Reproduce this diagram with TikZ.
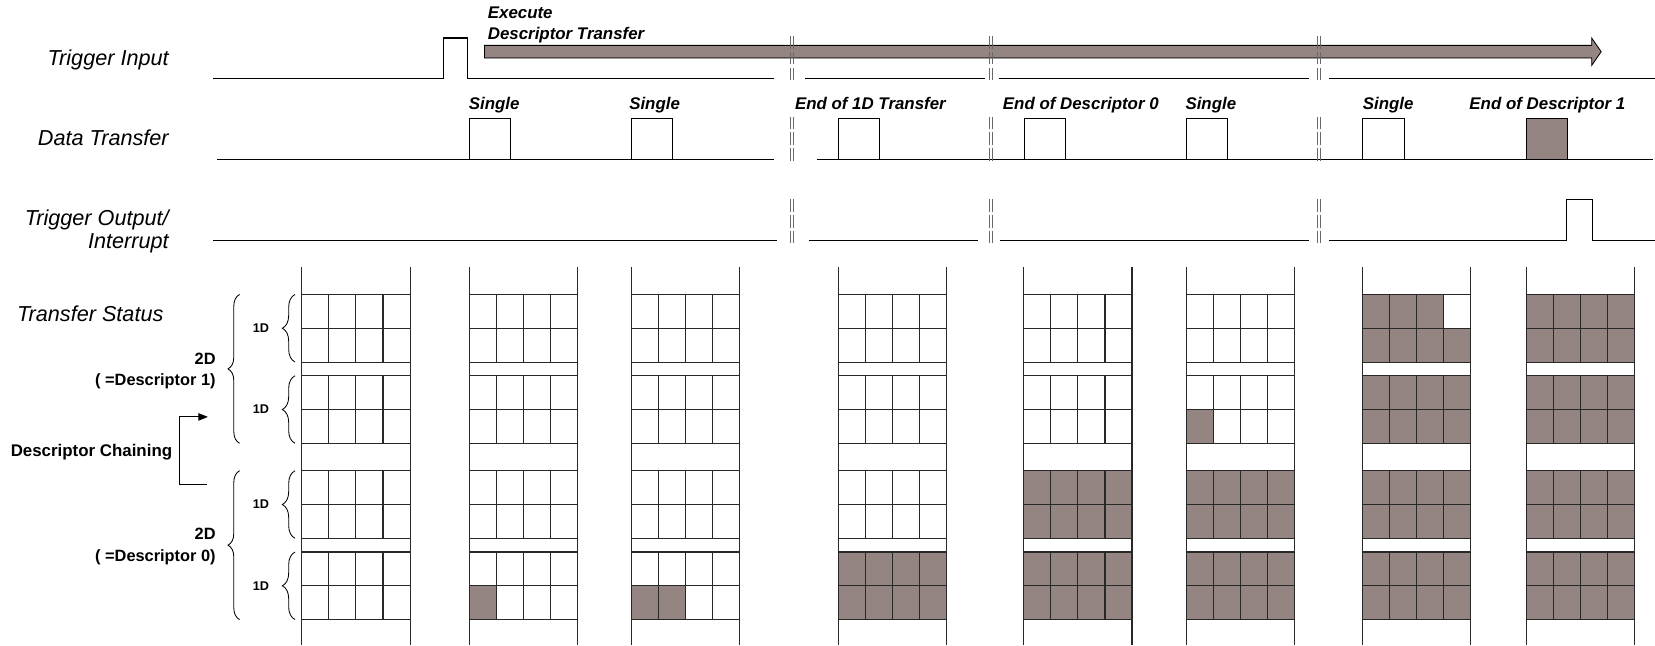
\documentclass[tikz,border=0pt]{standalone}
\usepackage{fontspec}
\setmainfont{Liberation Sans}
\usetikzlibrary{arrows.meta,decorations.pathreplacing}
\definecolor{fillc}{RGB}{148,132,130}
\definecolor{brkc}{RGB}{105,105,105}
\definecolor{gridc}{RGB}{40,40,40}
\newcommand{\breakmark}[3]{%
  \draw[brkline] (#1-1.5,#2) -- (#1-1.5,#3);
  \draw[brkline] (#1+1.5,#2) -- (#1+1.5,#3);}
\newcommand{\fillcell}[4]{%
  \fill[fillc] ({#1+(#4-1)*25.625},{#2+(#3-1)*32}) rectangle ++(25.625,32);}
\newcommand{\fillgroup}[2]{%
  \fill[fillc] (#1,#2) rectangle ++(102.5,64);}
\begin{document}
\begin{tikzpicture}[x=1pt,y=-1pt,
  wave/.style={line width=1pt},
  sidelabel/.style={font=\fontsize{20.5}{24}\selectfont\itshape, anchor=base east, inner sep=0pt},
  evlabel/.style={font=\fontsize{16}{19}\selectfont\bfseries\itshape, anchor=base west, inner sep=0pt},
  dimlabel/.style={font=\fontsize{15.5}{19}\selectfont\bfseries, anchor=base east, inner sep=0pt},
  smalllabel/.style={font=\fontsize{12}{14}\selectfont\bfseries, anchor=east, inner sep=0pt},
  pulsebox/.style={draw, line width=1pt},
  brkline/.style={draw=brkc, line width=0.8pt, dash pattern=on 12pt off 3pt},
  gridline/.style={draw=gridc, line width=1pt},
  bigbrace/.style={decorate, decoration={brace, amplitude=11pt}, line width=0.8pt},
  smallbrace/.style={decorate, decoration={brace, amplitude=12pt}, line width=0.8pt},
]
\useasboundingbox (0,0) rectangle (1568,612);

% ---------- side labels ----------
\node[sidelabel] (ti) at (160,61.6) {Trigger Input};
\node[sidelabel] (dt) at (160,137.5) {Data Transfer};
\node[sidelabel] (to1) at (160,213.5) {Trigger Output/};
\node[sidelabel] (to2) at (160,235.5) {Interrupt};
\node[sidelabel, anchor=base west] (ts) at (16,304.8) {Transfer Status};

% ---------- execute arrow ----------
\node[evlabel] (ex1) at (462,17.4) {Execute};
\node[evlabel] (ex2) at (462,37.3) {Descriptor Transfer};
\draw[fill=fillc, line width=0.8pt] (459,43) -- (1508,43) -- (1508,36) -- (1517,49) -- (1508,62) -- (1508,55) -- (459,55) -- cycle;
\draw[line width=1.4pt, fillc!55!black] (459.5,54.3) -- (1508,54.3);

% ---------- trigger input ----------
\draw[wave] (202,74) -- (420,74) -- (420,36) -- (443,36) -- (443,74) -- (733,74);
\draw[wave] (763,74) -- (933,74);
\draw[wave] (946,74) -- (1240,74);
\draw[wave] (1259,74) -- (1568,74);

% ---------- data transfer ----------
\draw[wave] (206,151) -- (733,151);
\draw[wave] (774,151) -- (1566,151);
\draw[pulsebox] (445,151) -- (445,112.7) -- (483.5,112.7) -- (483.5,151);
\draw[pulsebox] (598.5,151) -- (598.5,112.7) -- (637.5,112.7) -- (637.5,151);
\draw[pulsebox] (794,151) -- (794,112.7) -- (833,112.7) -- (833,151);
\draw[pulsebox] (970.5,151) -- (970.5,112.7) -- (1009.5,112.7) -- (1009.5,151);
\draw[pulsebox] (1124,151) -- (1124,112.7) -- (1163,112.7) -- (1163,151);
\draw[pulsebox] (1291,151) -- (1291,112.7) -- (1330.5,112.7) -- (1330.5,151);
\draw[pulsebox, fill=fillc] (1446.5,151) rectangle (1485,112.7);

\node[evlabel] (l1) at (444,104.2) {Single};
\node[evlabel] (l2) at (596,104.2) {Single};
\node[evlabel] (l3) at (753,104.2) {End of 1D Transfer};
\node[evlabel] (l4) at (950,104.2) {End of Descriptor 0};
\node[evlabel] (l5) at (1123,104.2) {Single};
\node[evlabel] (l6) at (1291,104.2) {Single};
\node[evlabel] (l7) at (1392,104.2) {End of Descriptor 1};

% ---------- trigger output ----------
\draw[wave] (202,227.5) -- (736,227.5);
\draw[wave] (766,227.5) -- (927,227.5);
\draw[wave] (947,227.5) -- (1240,227.5);
\draw[wave] (1259,227.5) -- (1484,227.5) -- (1484,189) -- (1509,189) -- (1509,227.5) -- (1568,227.5);

% ---------- break marks ----------
\foreach \bx in {750,939,1249.5} {
  \breakmark{\bx}{34}{76}
  \breakmark{\bx}{110.5}{153}
  \breakmark{\bx}{189}{230}
}

% ---------- transfer status fills ----------
\fillcell{444.5}{523}{2}{1}
\fillcell{598.5}{523}{2}{1}
\fillcell{598.5}{523}{2}{2}
\fillgroup{794}{523}
\fillgroup{970}{446}
\fillgroup{970}{523}
\fillgroup{1124}{446}
\fillgroup{1124}{523}
\fillcell{1124}{356}{2}{1}
\fillgroup{1291}{356}
\fillgroup{1291}{446}
\fillgroup{1291}{523}
\fill[fillc] (1291,311) rectangle ++(102.5,32);
\fill[fillc] (1291,279) rectangle ++(76.875,32);
\fillgroup{1446}{279}
\fillgroup{1446}{356}
\fillgroup{1446}{446}
\fillgroup{1446}{523}

% ---------- transfer status grids ----------
\foreach \L in {286,444.5,598.5,794,970,1124,1291,1446} {
  \draw[gridline] (\L,253) -- (\L,611);
  \draw[gridline] ({\L+102.5},253) -- ({\L+102.5},611);
  \foreach \T in {279,356,446,523} {
    \foreach \dy in {0,32,64}
      \draw[gridline] (\L,{\T+\dy}) -- ({\L+102.5},{\T+\dy});
    \foreach \c in {1,2,3}
      \draw[gridline] ({\L+\c*25.625},\T) -- ({\L+\c*25.625},{\T+64});
  }
}

% ---------- braces and labels ----------
\draw[bigbrace] (227,420) -- (227,279);
\draw[bigbrace] (227,587) -- (227,446);
\foreach \T in {279,356,446,523}
  \draw[smallbrace] (279.5,{\T+64}) -- (279.5,\T);

\node[smalllabel] (d1a) at (255,311) {1D};
\node[smalllabel] (d1b) at (255,388) {1D};
\node[smalllabel] (d0a) at (255,478) {1D};
\node[smalllabel] (d0b) at (255,555) {1D};

\node[dimlabel] (t1) at (204.5,344.9) {2D};
\node[dimlabel] (t2) at (204.5,364.8) {( =Descriptor 1)};
\node[dimlabel] (t3) at (204.5,511.6) {2D};
\node[dimlabel] (t4) at (204.5,532) {( =Descriptor 0)};

% ---------- descriptor chaining ----------
\node[font=\fontsize{16}{19}\selectfont\bfseries, anchor=base west, inner sep=0pt] (dc) at (10,432.7) {Descriptor Chaining};
\coordinate (dcs) at (196,459);
\coordinate (dce) at (197,395);
\draw[line width=0.9pt, -{Triangle[length=9pt,width=7pt]}] (dcs) -- (170,459) -- (170,395) -- (dce);
\end{tikzpicture}
\end{document}
